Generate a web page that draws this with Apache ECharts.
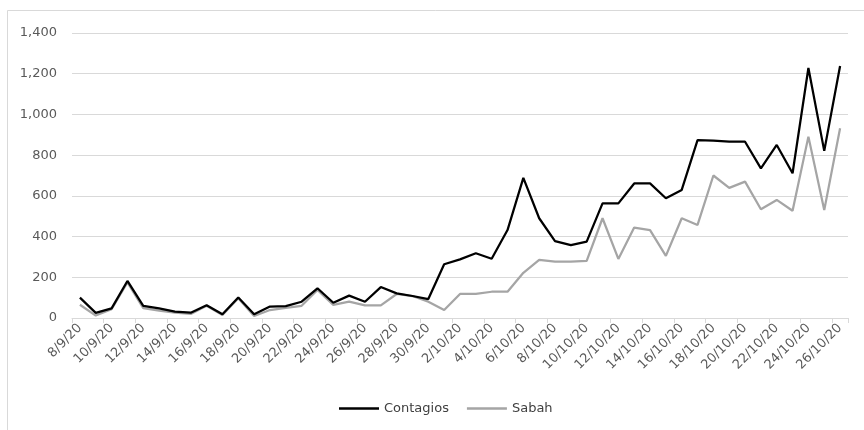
<!DOCTYPE html>
<html lang="es" style="height: 100%">
<head>
    <meta charset="utf-8">
</head>
<body style="height: 100%; margin: 0; background: #fff">
<div id="container" style="width: 864px; height: 430px"></div>

<script type="text/javascript" src="https://cdn.jsdelivr.net/npm/echarts@6/dist/echarts.min.js"></script>
<script type="text/javascript">
    // dates 8/9/20 .. 26/10/20, one per day
    const dates = [
        '8/9/20', '9/9/20', '10/9/20', '11/9/20', '12/9/20', '13/9/20', '14/9/20', '15/9/20',
        '16/9/20', '17/9/20', '18/9/20', '19/9/20', '20/9/20', '21/9/20', '22/9/20', '23/9/20',
        '24/9/20', '25/9/20', '26/9/20', '27/9/20', '28/9/20', '29/9/20', '30/9/20',
        '1/10/20', '2/10/20', '3/10/20', '4/10/20', '5/10/20', '6/10/20', '7/10/20', '8/10/20',
        '9/10/20', '10/10/20', '11/10/20', '12/10/20', '13/10/20', '14/10/20', '15/10/20',
        '16/10/20', '17/10/20', '18/10/20', '19/10/20', '20/10/20', '21/10/20', '22/10/20',
        '23/10/20', '24/10/20', '25/10/20', '26/10/20'
    ];
    const contagios = [
        100, 25, 47, 182, 60, 47, 31, 26, 63, 18, 101, 18, 56, 58, 80, 146,
        75, 110, 80, 152, 121, 108, 93,
        264, 288, 318, 291, 432, 688, 490, 378, 358, 375, 563, 563, 661, 661,
        588, 629, 874, 871, 866, 866, 735, 850, 711, 1228, 821, 1238
    ];
    const sabah = [
        65, 12, 43, 175, 48, 36, 26, 20, 60, 15, 97, 10, 39, 50, 60, 138,
        64, 80, 62, 62, 118, 108, 80,
        39, 118, 118, 129, 129, 222, 285, 277, 277, 281, 490, 290, 444, 432,
        305, 490, 457, 700, 639, 670, 534, 580, 527, 891, 530, 932
    ];
    const yTicks = { min: 0, max: 1400, step: 200 };

    var dom = document.getElementById('container');
    var myChart = echarts.init(dom, null, { renderer: 'canvas' });
    var font = 'DejaVu Sans';

    var option = {
        animation: false,
        backgroundColor: '#fff',
        textStyle: { fontFamily: font },
        graphic: [
            {
                type: 'polyline',
                shape: { points: [[7.5, 430], [7.5, 10.5], [864, 10.5]] },
                style: { stroke: '#d9d9d9', lineWidth: 1, fill: 'none' },
                silent: true
            }
        ],
        grid: { left: 72, right: 16, top: 33, bottom: 112 },
        legend: {
            left: 334,
            top: 397,
            icon: 'rect',
            itemWidth: 40,
            itemHeight: 2.5,
            itemGap: 18,
            textStyle: { fontFamily: font, fontSize: 13, color: '#404040' },
            data: ['Contagios', 'Sabah']
        },
        xAxis: {
            type: 'category',
            data: dates,
            boundaryGap: true,
            axisLine: { lineStyle: { color: '#d9d9d9', width: 1 } },
            axisTick: { show: true, interval: 1, length: 5, lineStyle: { color: '#d9d9d9' } },
            axisLabel: {
                interval: 1,
                rotate: 45,
                fontFamily: font,
                fontSize: 13,
                color: '#595959',
                margin: 8
            }
        },
        yAxis: {
            type: 'value',
            min: yTicks.min,
            max: yTicks.max,
            interval: yTicks.step,
            axisLine: { show: false },
            axisTick: { show: false },
            splitLine: { lineStyle: { color: '#d9d9d9', width: 1 } },
            axisLabel: {
                fontFamily: font,
                fontSize: 13,
                color: '#595959',
                margin: 15,
                formatter: function (v) {
                    return v.toString().replace(/\B(?=(\d{3})+(?!\d))/g, ',');
                }
            }
        },
        series: [
            {
                name: 'Contagios',
                type: 'line',
                data: contagios,
                symbol: 'none',
                color: '#000000',
                lineStyle: { color: '#000000', width: 2.25 },
                z: 3
            },
            {
                name: 'Sabah',
                type: 'line',
                data: sabah,
                symbol: 'none',
                color: '#a5a5a5',
                lineStyle: { color: '#a5a5a5', width: 2.25 },
                z: 2
            }
        ]
    };

    myChart.setOption(option);
    window.addEventListener('resize', myChart.resize);
</script>
</body>
</html>
